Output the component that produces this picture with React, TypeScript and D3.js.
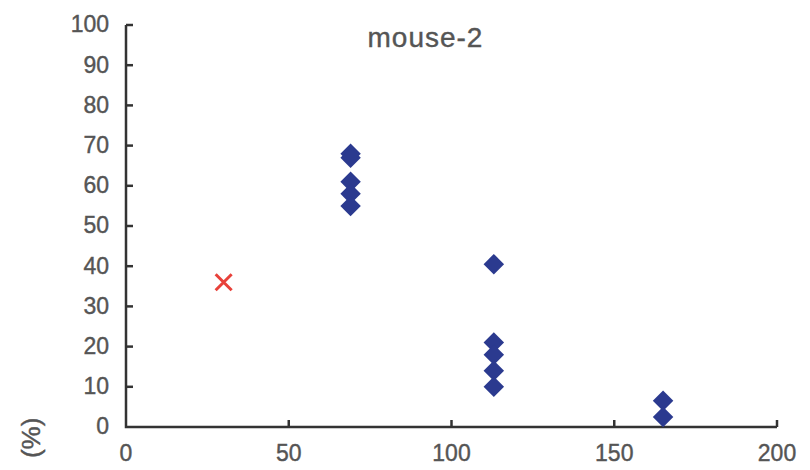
import React from "react";
import * as d3 from "d3";

const title = "mouse-2";
const yLabel = "(%)";
const xTicks = [0, 50, 100, 150, 200];
const yTicks = [0, 10, 20, 30, 40, 50, 60, 70, 80, 90, 100];

// blue diamonds
const diamondX = [69, 69, 69, 69, 69, 113, 113, 113, 113, 113, 165, 165];
const diamondY = [68, 67, 61, 58, 55, 40.5, 21, 18, 14, 10, 6.5, 2.5];

// red cross
const crossX = [30];
const crossY = [36];

const width = 810,
  height = 470,
  margin = { top: 25, right: 33, bottom: 43, left: 126 };

const font = "'Liberation Sans', Arial, Helvetica, sans-serif";
const axisColor = "#333";
const textColor = "#555";

const App = () => {
  const x = d3
    .scaleLinear()
    .domain([0, 200])
    .range([margin.left, width - margin.right]);
  const y = d3
    .scaleLinear()
    .domain([0, 100])
    .range([height - margin.bottom, margin.top]);

  const diamond = d3.symbol().type(d3.symbolSquare).size(210)() as string;
  const r = 8;
  const textProps = { fill: textColor, stroke: textColor, strokeWidth: 0.4, fontFamily: font };

  return (
    <div style={{ position: "absolute", left: 0, top: 0, background: "#fff" }}>
      <svg width={width} height={height} style={{ display: "block" }}>
        {/* axes */}
        <path
          d={`M${x(0)},${y(100)}V${y(0)}H${x(200)}`}
          stroke={axisColor}
          strokeWidth={2.5}
          fill="none"
        />
        {xTicks.slice(1).map((t) => (
          <line key={"xt" + t} x1={x(t)} x2={x(t)} y1={y(0)} y2={y(0) - 7} stroke={axisColor} strokeWidth={2.5} />
        ))}
        {yTicks.slice(1).map((t) => (
          <line key={"yt" + t} x1={x(0)} x2={x(0) + 7} y1={y(t)} y2={y(t)} stroke={axisColor} strokeWidth={2.5} />
        ))}
        {xTicks.map((t) => (
          <text key={"xl" + t} x={x(t)} y={y(0) + 34} textAnchor="middle" fontSize={23} {...textProps}>
            {t}
          </text>
        ))}
        {yTicks.map((t) => (
          <text key={"yl" + t} x={x(0) - 17} y={y(t)} dy="0.32em" textAnchor="end" fontSize={23} {...textProps}>
            {t}
          </text>
        ))}

        {/* title */}
        <text x={x(92)} y={47} textAnchor="middle" fontSize={28} letterSpacing={1} {...textProps}>
          {title}
        </text>

        {/* y label */}
        <text
          transform={`translate(40,${y(-2.7)}) rotate(-90)`}
          textAnchor="middle"
          fontSize={26}
          {...textProps}
        >
          {yLabel}
        </text>

        {/* diamonds */}
        {diamondX.map((d, i) => (
          <path
            key={"d" + i}
            d={diamond}
            transform={`translate(${x(d)},${y(diamondY[i])}) rotate(45)`}
            fill="#2b3a8f"
          />
        ))}

        {/* cross */}
        {crossX.map((d, i) => {
          const cx = x(d),
            cy = y(crossY[i]);
          return (
            <path
              key={"c" + i}
              d={`M${cx - r},${cy - r}L${cx + r},${cy + r}M${cx - r},${cy + r}L${cx + r},${cy - r}`}
              stroke="#e8413a"
              strokeWidth={3}
              fill="none"
            />
          );
        })}
      </svg>
    </div>
  );
};

export default App;
